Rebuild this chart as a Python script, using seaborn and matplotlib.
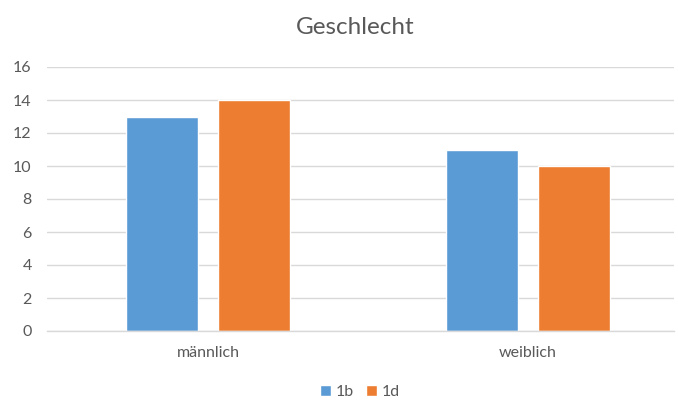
import matplotlib
matplotlib.use("Agg")
import matplotlib.pyplot as plt
import seaborn as sns
import pandas as pd

categories = ["männlich", "weiblich"]
series_names = ["1b", "1d"]
values_1b = [13, 11]
values_1d = [14, 10]
yticks = [0, 2, 4, 6, 8, 10, 12, 14, 16]

df = pd.DataFrame({
    "Kategorie": categories * 2,
    "Serie": [series_names[0]] * 2 + [series_names[1]] * 2,
    "Wert": values_1b + values_1d,
})

sns.set_style("white")
plt.rcParams["font.family"] = ["Lato", "DejaVu Sans"]

fig = plt.figure(figsize=(6.78, 4.0), dpi=100)
ax = fig.add_axes([47 / 678, 69 / 400, 627 / 678, 264 / 400])

sns.barplot(data=df, x="Kategorie", y="Wert", hue="Serie",
            palette=["#5B9BD5", "#ED7D31"], width=0.578, gap=0.22,
            ax=ax, legend=False, saturation=1)

ax.set_xlim(-0.503, 1.456)
ax.set_ylim(0, 16)
ax.set_yticks(yticks)
ax.yaxis.grid(True, color="#D9D9D9", linewidth=1)
ax.set_axisbelow(True)
for s in ["top", "right", "left"]:
    ax.spines[s].set_visible(False)
ax.spines["bottom"].set_color("#D9D9D9")
ax.spines["bottom"].set_linewidth(1)
ax.tick_params(axis="both", length=0, colors="#595959", labelsize=11.5)
ax.tick_params(axis="x", pad=11)
ax.tick_params(axis="y", pad=11)
ax.set_xlabel("")
ax.set_ylabel("")

fig.text(355 / 678, 1 - 28 / 400, "Geschlecht", ha="center", va="center",
         fontsize=17.5, color="#595959")

from matplotlib.patches import Patch
handles = [Patch(facecolor="#5B9BD5"), Patch(facecolor="#ED7D31")]
fig.legend(handles, series_names, loc="center", bbox_to_anchor=(360 / 678, 1 - 392 / 400),
           ncol=2, frameon=False, fontsize=11.5, handlelength=0.65, handleheight=0.65,
           handletextpad=0.3, columnspacing=0.8, labelcolor="#595959")

fig.savefig("out.png", dpi=100)
